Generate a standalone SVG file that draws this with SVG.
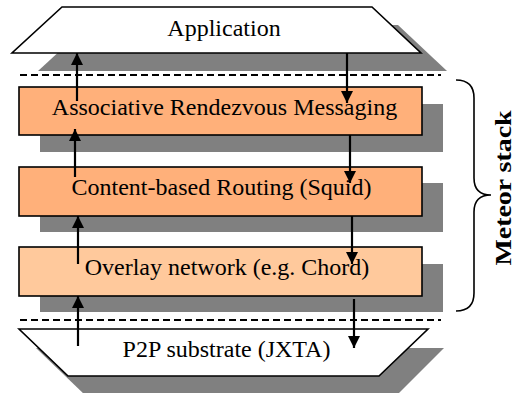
<svg xmlns="http://www.w3.org/2000/svg" width="516" height="393" viewBox="0 0 516 393">
<style>
.shadow{fill:#808080;stroke:none}
.plane{fill:#ffffff;stroke:#000;stroke-width:1.6}
.layer{fill:#ffb07a;stroke:#000;stroke-width:1.6}
.layer-light{fill:#ffc99c;stroke:#000;stroke-width:1.6}
.lbl{font-family:"Liberation Serif","Times New Roman",serif;font-size:24px;fill:#000;text-anchor:middle}
.dash{stroke:#000;stroke-width:2;stroke-dasharray:7,4;fill:none}
.arrow{stroke:#000;stroke-width:2.2;fill:none;marker-end:url(#ah)}
</style>
<defs>
<marker id="ah" markerUnits="userSpaceOnUse" markerWidth="12" markerHeight="12" viewBox="0 0 12 12" refX="12" refY="6" orient="auto">
<path d="M0,0 L12,6 L0,12 Z" fill="#000"/>
</marker>
</defs>
<rect width="516" height="393" fill="#fff"/>

<g id="application">
<polygon class="shadow" points="88,25 398,25 447,71 38,71"/>
<polygon class="plane" points="62,7 372,7 421,53 12,53"/>
<text class="lbl" x="224" y="36" font-size="25">Application</text>
</g>

<g id="separators">
<line class="dash" x1="20" y1="75" x2="441" y2="75"/>
<line class="dash" x1="20" y1="320" x2="441" y2="320"/>
</g>

<g id="arm">
<rect class="shadow" x="40" y="104" width="403" height="48"/>
<rect class="layer" x="19" y="87" width="403" height="48"/>
<text class="lbl" x="224.5" y="115">Associative Rendezvous Messaging</text>
</g>

<g id="cbr">
<rect class="shadow" x="40" y="183" width="403" height="49"/>
<rect class="layer" x="19" y="167" width="403" height="49"/>
<text class="lbl" x="221.5" y="195">Content-based Routing (Squid)</text>
</g>

<g id="overlay">
<rect class="shadow" x="40" y="264" width="403" height="48"/>
<rect class="layer-light" x="19" y="247" width="403" height="49"/>
<text class="lbl" x="227" y="275">Overlay network (e.g. Chord)</text>
</g>

<g id="p2p">
<polygon class="shadow" points="36,348 444,348 397,395 85,395"/>
<polygon class="plane" points="19,329 428,329 379,376 68,376"/>
<text class="lbl" x="226.5" y="357">P2P substrate (JXTA)</text>
</g>

<g id="meteor-stack">
<path d="M456,80 Q474,80 474,98 L474,178 Q474,195 491,195 Q474,195 474,212 L474,293 Q474,311 456,311" fill="none" stroke="#000" stroke-width="1.6"/>
<text x="0" y="0" transform="translate(511,188) rotate(-90)" font-family="'Liberation Serif','Times New Roman',serif" font-size="24" font-weight="bold" text-anchor="middle" fill="#000" textLength="155" lengthAdjust="spacingAndGlyphs">Meteor stack</text>
</g>

<g id="connectors">
<line class="arrow" x1="77" y1="101" x2="77" y2="53"/>
<line class="arrow" x1="75" y1="177" x2="75" y2="129"/>
<line class="arrow" x1="78" y1="264" x2="78" y2="216"/>
<line class="arrow" x1="78" y1="346" x2="78" y2="296"/>
<line class="arrow" x1="347" y1="53" x2="347" y2="103"/>
<line class="arrow" x1="350" y1="135" x2="350" y2="183"/>
<line class="arrow" x1="352" y1="216" x2="352" y2="264"/>
<line class="arrow" x1="354" y1="299" x2="354" y2="348"/>
</g>
</svg>
